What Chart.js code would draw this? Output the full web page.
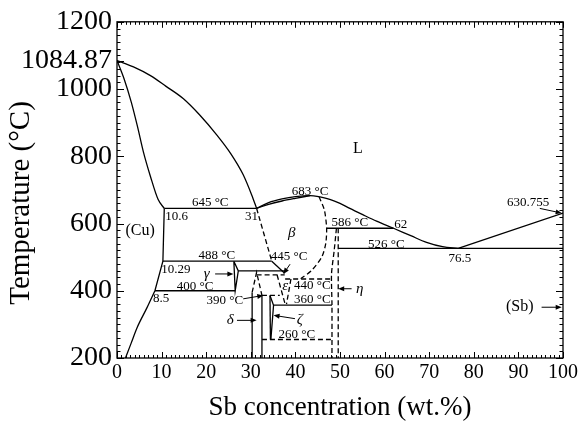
<!DOCTYPE html>
<html>
<head>
<meta charset="utf-8">
<script src="https://cdn.jsdelivr.net/npm/chart.js@4.4.1/dist/chart.umd.min.js"></script>
<style>
  body { margin: 0; background: #fff; }
</style>
</head>
<body>
<canvas id="myChart" width="583" height="425"></canvas>
<script>
// axis ticks
const xTicks = [0, 10, 20, 30, 40, 50, 60, 70, 80, 90, 100];
const yTicks = [200, 400, 600, 800, 1000, 1084.87, 1200];

// phase boundaries, [wt.% Sb, temperature °C]
const liquidusCu = [[0,1084.87],[3.7,1066],[7.5,1040],[11,1008],[14.9,971],[18.6,922],[22.4,863],[25.5,808],[28.3,745],[30.2,685],[31.3,645]];
const solidusCu = [[0,1084.87],[1.6,1030],[3.2,961],[4.6,888],[5.9,814],[7.5,740],[9.2,672],[10.6,645]];
const solvusCuTop = [[10.6,645],[10.29,488],[8.5,400]];
const solvusCuLow = [[8.5,400],[6.7,349],[4.5,290],[3.2,245],[1.9,200]];
const liquidusMid = [[31.3,645],[34,662],[37,673],[40,680],[43.3,683],[45.5,679],[47.7,672],[50,660],[52.2,645],[55,627],[58.2,607],[62,586],[66,563],[69.4,544],[73,531],[76.5,526]];
const solidusBeta = [[31.3,645],[34,657],[37,667],[40,675],[43.3,683]];
const liquidusSb = [[76.5,526],[100,630.755]];
const line645 = [[10.6,645],[31.3,645]];
const line586 = [[47,586],[62,586]];
const line526 = [[49.6,526],[100,526]];
const line488 = [[10.29,488],[34.7,488]];
const line400 = [[8.5,400],[26.5,400]];
const gammaWedge = [[26.2,488],[27.2,459],[26.5,400],[26.2,488]];
const line459 = [[27.2,459],[37.6,459]];
const diag445 = [[34.7,488],[37.6,452]];
const line360 = [[35.1,357],[48.2,357]];
const deltaLeft = [[30.3,395],[30.3,200]];
const deltaRight = [[32.5,386],[32.5,200]];
const zetaLeft = [[34.3,386],[34.4,255]];
const zetaRight = [[34.3,386],[35.1,357],[34.5,255]];

// dashed boundaries
const betaLeft = [[31.3,645],[34.7,488]];
const betaRight = [[45.3,680],[46.5,640],[47,586],[46.8,540],[45.9,500],[43.6,460],[41.2,436]];
const deltaTop = [[30.3,395],[31.3,455],[32.5,386]];
const line447 = [[31.3,447],[37.6,447]];
const line440 = [[37.7,435],[47.8,435]];
const epsLeft = [[35.9,447],[37.7,360]];
const epsRight = [[39,435],[38,360]];
const line390 = [[32.5,386],[36.5,386]];
const line260 = [[32.5,255],[48.2,255]];
const etaLeft = [[49.2,586],[48.7,520],[48.1,450],[48.2,360],[48.2,200]];
const etaRight = [[49.6,586],[49.6,200]];

const solid = [liquidusCu, solidusCu, solvusCuTop, solvusCuLow, liquidusMid, solidusBeta, liquidusSb,
  line645, line586, line526, line488, line400, gammaWedge, line459, diag445, line360,
  deltaLeft, deltaRight, zetaLeft, zetaRight];
const dashed = [betaLeft, betaRight, deltaTop, line447, line440, epsLeft, epsRight, line390, line260, etaLeft, etaRight];
// curves that go left to right get monotone splines, the rest a light tension
const monotone = [liquidusCu, solidusCu, solvusCuLow, liquidusMid, solidusBeta];
const bent = [betaRight, etaLeft];

// labels: text, x, T, align, style
const labels = [
  ['L', 54, 822, 'center', 'big'],
  ['(Cu)', 5.2, 578, 'center', 'big'],
  ['(Sb)', 90.3, 351, 'center', 'big'],
  ['β', 39.2, 573, 'center', 'greek'],
  ['γ', 20.1, 450, 'center', 'greek'],
  ['δ', 25.4, 312, 'center', 'greek'],
  ['ζ', 41, 312, 'center', 'greek'],
  ['ε', 37.7, 415, 'center', 'greek'],
  ['η', 54.4, 406, 'center', 'greek'],
  ['10.6', 10.8, 622, 'left', ''],
  ['31', 31.6, 622, 'right', ''],
  ['645 °C', 20.9, 661, 'center', ''],
  ['488 °C', 22.4, 504, 'center', ''],
  ['10.29', 13.2, 462, 'center', ''],
  ['400 °C', 17.5, 412, 'center', ''],
  ['8.5', 9.9, 376, 'center', ''],
  ['445 °C', 38.6, 501, 'center', ''],
  ['683 °C', 43.3, 696, 'center', ''],
  ['586 °C', 52.2, 602, 'center', ''],
  ['62', 63.6, 597, 'center', ''],
  ['526 °C', 60.4, 538, 'center', ''],
  ['76.5', 76.9, 497, 'center', ''],
  ['630.755', 92.2, 661, 'center', ''],
  ['440 °C', 43.8, 415, 'center', ''],
  ['360 °C', 43.8, 373, 'center', ''],
  ['260 °C', 40.3, 271, 'center', ''],
  ['390 °C', 24.2, 371, 'center', '']
];

// arrows: from x, from T, to x, to T
const arrows = [
  [22, 450, 26.1, 450],
  [26.9, 312, 31.3, 312],
  [39.9, 317, 35.1, 327],
  [28.3, 376, 32.8, 386],
  [38.8, 479, 37.3, 450],
  [52.6, 406, 49.6, 406],
  [95.2, 351, 99.7, 351],
  [94.8, 645, 99.7, 631]
];

const serif = "'Liberation Serif', 'DejaVu Serif', serif";
const yTitle = 'Temperature (°C)';

function toXY(arr) {
  return arr.map(p => ({x: p[0], y: p[1]}));
}

const datasets = [];
solid.forEach(d => datasets.push({data: toXY(d), borderDash: []}));
dashed.forEach(d => datasets.push({data: toXY(d), borderDash: [5, 3]}));
datasets.forEach((ds, i) => {
  const src = i < solid.length ? solid[i] : dashed[i - solid.length];
  if (monotone.includes(src)) ds.cubicInterpolationMode = 'monotone';
  ds.tension = bent.includes(src) ? 0.25 : 0;
  ds.showLine = true;
  ds.borderColor = '#000';
  ds.borderWidth = 1.3;
  ds.pointRadius = 0;
  ds.fill = false;
});

// frame with inward major/minor ticks, arrows, labels, y title
const framePlugin = {
  id: 'frame',
  afterDatasetsDraw(chart) {
    const {ctx, chartArea: a, scales: {x, y}} = chart;
    ctx.save();
    ctx.strokeStyle = '#000';
    ctx.lineWidth = 1.3;
    ctx.strokeRect(a.left, a.top, a.right - a.left, a.bottom - a.top);
    ctx.lineWidth = 1;
    ctx.beginPath();
    for (let v = 0; v <= 100; v += 1) {
      const px = Math.round(x.getPixelForValue(v)) + 0.5;
      const len = v % 10 === 0 ? 6 : 3;
      ctx.moveTo(px, a.bottom); ctx.lineTo(px, a.bottom - len);
      ctx.moveTo(px, a.top); ctx.lineTo(px, a.top + len);
    }
    for (let v = 200; v <= 1200; v += 20) {
      const py = Math.round(y.getPixelForValue(v)) + 0.5;
      const len = v % 200 === 0 ? 7 : 3.5;
      ctx.moveTo(a.left, py); ctx.lineTo(a.left + len, py);
      ctx.moveTo(a.right, py); ctx.lineTo(a.right - len, py);
    }
    const pk = Math.round(y.getPixelForValue(1084.87)) + 0.5;
    ctx.moveTo(a.left, pk); ctx.lineTo(a.left + 7, pk);
    ctx.stroke();

    // arrows
    ctx.fillStyle = '#000';
    arrows.forEach(r => {
      const x0 = x.getPixelForValue(r[0]), y0 = y.getPixelForValue(r[1]);
      const x1 = x.getPixelForValue(r[2]), y1 = y.getPixelForValue(r[3]);
      const ang = Math.atan2(y1 - y0, x1 - x0);
      ctx.beginPath();
      ctx.moveTo(x0, y0); ctx.lineTo(x1 - 5 * Math.cos(ang), y1 - 5 * Math.sin(ang));
      ctx.stroke();
      ctx.beginPath();
      ctx.moveTo(x1, y1);
      ctx.lineTo(x1 - 6 * Math.cos(ang) + 2.5 * Math.sin(ang), y1 - 6 * Math.sin(ang) - 2.5 * Math.cos(ang));
      ctx.lineTo(x1 - 6 * Math.cos(ang) - 2.5 * Math.sin(ang), y1 - 6 * Math.sin(ang) + 2.5 * Math.cos(ang));
      ctx.closePath();
      ctx.fill();
    });

    // text labels
    ctx.textBaseline = 'middle';
    labels.forEach(l => {
      if (l[4] === 'big') ctx.font = '16px ' + serif;
      else if (l[4] === 'greek') ctx.font = 'italic 15px ' + serif;
      else ctx.font = '13px ' + serif;
      ctx.textAlign = l[3];
      ctx.fillText(l[0], x.getPixelForValue(l[1]), y.getPixelForValue(l[2]));
    });

    // y axis title, a bit below the plot centre as in the source figure
    ctx.translate(21, 203);
    ctx.rotate(-Math.PI / 2);
    ctx.textAlign = 'center';
    ctx.font = '29px ' + serif;
    ctx.fillText(yTitle, 0, 0);
    ctx.restore();
  }
};

const ctx = document.getElementById('myChart');
const myChart = new Chart(ctx, {
  type: 'scatter',
  data: { datasets: datasets },
  options: {
    responsive: false,
    animation: false,
    layout: { padding: { top: 19, right: 20, left: 0, bottom: 0 } },
    plugins: { legend: { display: false }, tooltip: { enabled: false } },
    scales: {
      x: {
        type: 'linear', min: 0, max: 100,
        afterBuildTicks: s => { s.ticks = xTicks.map(v => ({value: v})); },
        afterFit: s => { s.height = 67; },
        grid: { display: false, drawTicks: false },
        border: { display: false },
        ticks: { color: '#000', font: { family: serif, size: 20 }, padding: 3, autoSkip: false, maxRotation: 0 },
        title: { display: true, text: 'Sb concentration (wt.%)', color: '#000', font: { family: serif, size: 27 }, padding: { top: 0, bottom: 1 } }
      },
      y: {
        type: 'linear', min: 200, max: 1200,
        afterBuildTicks: s => { s.ticks = yTicks.map(v => ({value: v})); },
        afterFit: s => { s.width = 117; },
        grid: { display: false, drawTicks: false },
        border: { display: false },
        ticks: {
          color: '#000',
          font: { family: serif, size: 28 },
          padding: 5, autoSkip: false,
          callback: v => String(v)
        },
        title: { display: false }
      }
    }
  },
  plugins: [framePlugin]
});
</script>
</body>
</html>
